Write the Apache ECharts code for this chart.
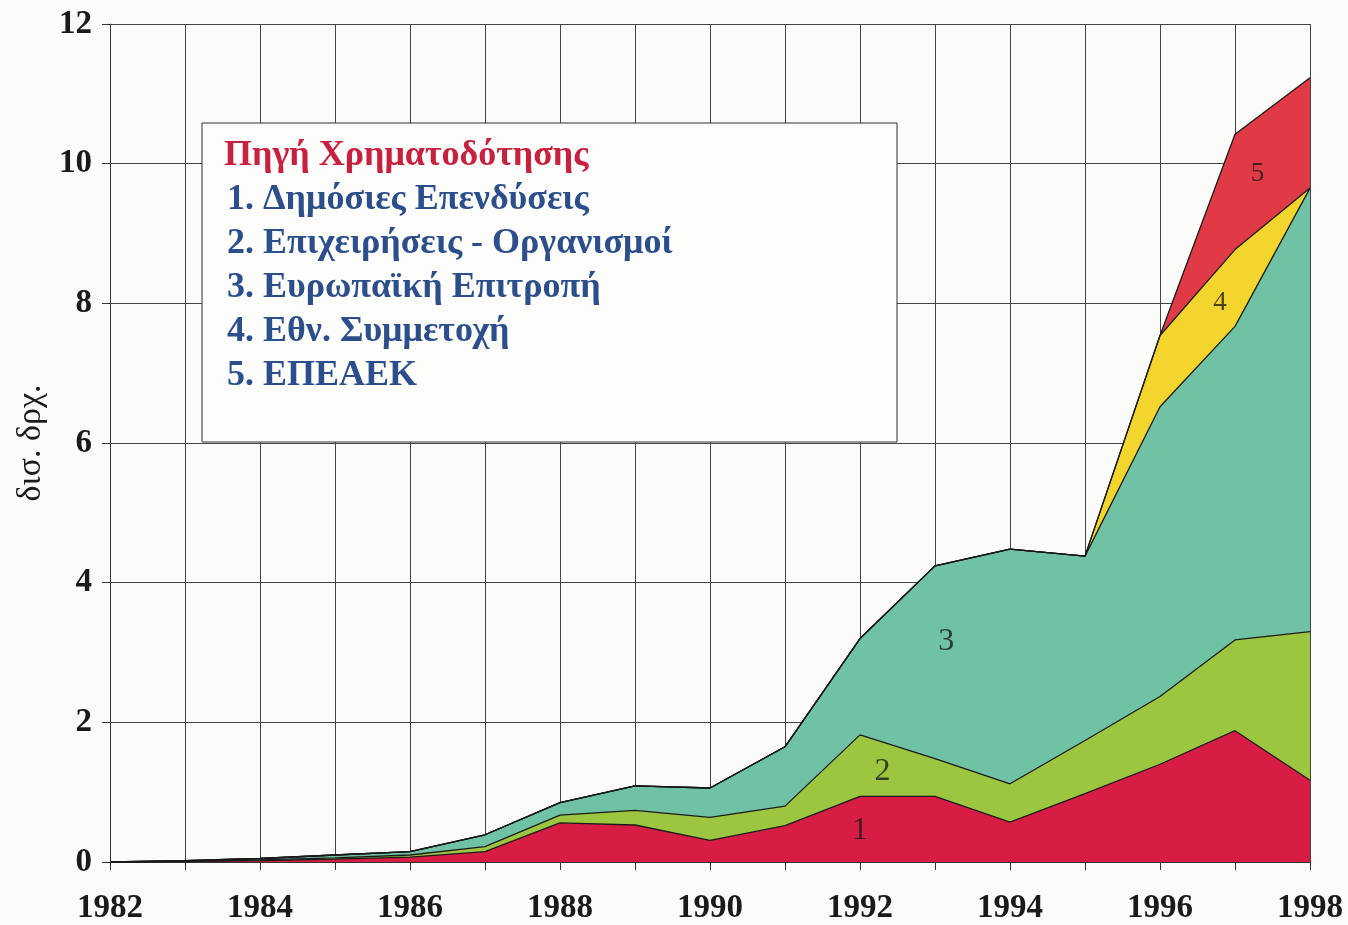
<!DOCTYPE html>
<html>
<head>
<meta charset="utf-8">
<script src="https://cdn.jsdelivr.net/npm/echarts@6/dist/echarts.min.js"></script>
<style>
  html, body { margin: 0; padding: 0; background: #fbfbf9; }
  #chart { width: 1348px; height: 925px; }
</style>
</head>
<body>
<div id="chart"></div>
<script>
var years = ['1982', '1983', '1984', '1985', '1986', '1987', '1988', '1989', '1990', '1991', '1992', '1993', '1994', '1995', '1996', '1997', '1998'];
var seriesNames = ['Δημόσιες Επενδύσεις', 'Επιχειρήσεις - Οργανισμοί', 'Ευρωπαϊκή Επιτροπή', 'Εθν. Συμμετοχή', 'ΕΠΕΑΕΚ'];
// values per year, billions of drachmas (stacked)
var publicInv = [0, 0.01, 0.02, 0.04, 0.07, 0.15, 0.56, 0.53, 0.31, 0.52, 0.94, 0.94, 0.57, 0.98, 1.40, 1.88, 1.17];
var business  = [0, 0, 0.01, 0.02, 0.03, 0.07, 0.11, 0.21, 0.33, 0.28, 0.88, 0.54, 0.55, 0.76, 0.97, 1.30, 2.13];
var euComm    = [0, 0.01, 0.02, 0.04, 0.05, 0.17, 0.18, 0.35, 0.42, 0.85, 1.38, 2.76, 3.36, 2.64, 4.15, 4.49, 6.35];
var national  = [0, 0, 0, 0, 0, 0, 0, 0, 0, 0, 0, 0, 0, 0, 1.02, 1.10, 0];
var epeaek    = [0, 0, 0, 0, 0, 0, 0, 0, 0, 0, 0, 0, 0, 0, 0, 1.65, 1.58];
// where the area numbers sit: [year, value]
var labelSpots = [[1992, 0.45], [1992.3, 1.3], [1993.15, 3.15], [1996.8, 8.0], [1997.3, 9.85]];

var colors = ['#d81d45', '#9dc640', '#6fc2a3', '#f4d52e', '#df3a45'];
var serif = '"Liberation Serif", "DejaVu Serif", serif';

var chart = echarts.init(document.getElementById('chart'));

var allVals = [publicInv, business, euComm, national, epeaek];
var series = allVals.map(function (vals, i) {
    return {
        name: seriesNames[i],
        type: 'line',
        stack: 'total',
        data: vals,
        symbol: 'none',
        lineStyle: { color: '#1a1a1a', width: 1.3 },
        areaStyle: { color: colors[i], opacity: 1 },
        itemStyle: { color: colors[i] },
        z: 2
    };
});

// the numbers 1-5 written inside the areas
series.push({
    name: 'labels',
    type: 'scatter',
    xAxisIndex: 1,
    symbolSize: 1,
    itemStyle: { color: 'rgba(0,0,0,0)' },
    z: 5,
    label: {
        show: true,
        position: 'inside',
        fontFamily: serif,
        color: '#1a1a1a',
        formatter: function (p) { return String(p.dataIndex + 1); },
        fontSize: 32
    },
    data: labelSpots.map(function (s, i) {
        return { value: s, label: { fontSize: i >= 3 ? 27 : 32 } };
    })
});

var option = {
    backgroundColor: '#fbfbf9',
    animation: false,
    grid: { left: 110, right: 38, top: 24, bottom: 63 },
    title: {
        text: 'Πηγή Χρηματοδότησης',
        left: 219,
        top: 133,
        textStyle: { fontFamily: serif, fontWeight: 'bold', fontSize: 36, color: '#c8203f' }
    },
    legend: {
        orient: 'vertical',
        left: 216,
        top: 177,
        itemWidth: 0,
        itemHeight: 0,
        itemGap: 8,
        selectedMode: false,
        formatter: function (name) {
            return (seriesNames.indexOf(name) + 1) + '. ' + name;
        },
        textStyle: { fontFamily: serif, fontWeight: 'bold', fontSize: 36, color: '#2c4f8c' },
        data: seriesNames
    },
    graphic: [{
        type: 'rect',
        shape: { x: 202, y: 123, width: 695, height: 319 },
        style: { fill: '#fdfdfc', stroke: '#333', lineWidth: 1 },
        z: 3
    }],
    xAxis: [{
        type: 'category',
        data: years,
        boundaryGap: false,
        axisLine: { lineStyle: { color: '#333' } },
        axisTick: { interval: 0, length: 8, lineStyle: { color: '#333' } },
        axisLabel: {
            interval: 1,
            margin: 30,
            fontFamily: serif,
            fontWeight: 'bold',
            fontSize: 33,
            color: '#1a1a1a'
        },
        splitLine: { show: true, interval: 0, lineStyle: { color: '#444', width: 1 } }
    }, {
        type: 'value',
        min: 1982,
        max: 1998,
        show: false
    }],
    yAxis: {
        type: 'value',
        min: 0,
        max: 12,
        interval: 2,
        name: 'δισ. δρχ.',
        nameLocation: 'middle',
        nameGap: 55,
        nameTextStyle: { fontFamily: serif, fontSize: 34, color: '#1a1a1a' },
        axisLine: { show: true, lineStyle: { color: '#333' } },
        axisTick: { show: true, length: 8, lineStyle: { color: '#333' } },
        axisLabel: {
            margin: 18,
            fontFamily: serif,
            fontWeight: 'bold',
            fontSize: 33,
            color: '#1a1a1a'
        },
        splitLine: { show: true, lineStyle: { color: '#444', width: 1 } }
    },
    series: series
};

chart.setOption(option);
</script>
</body>
</html>
